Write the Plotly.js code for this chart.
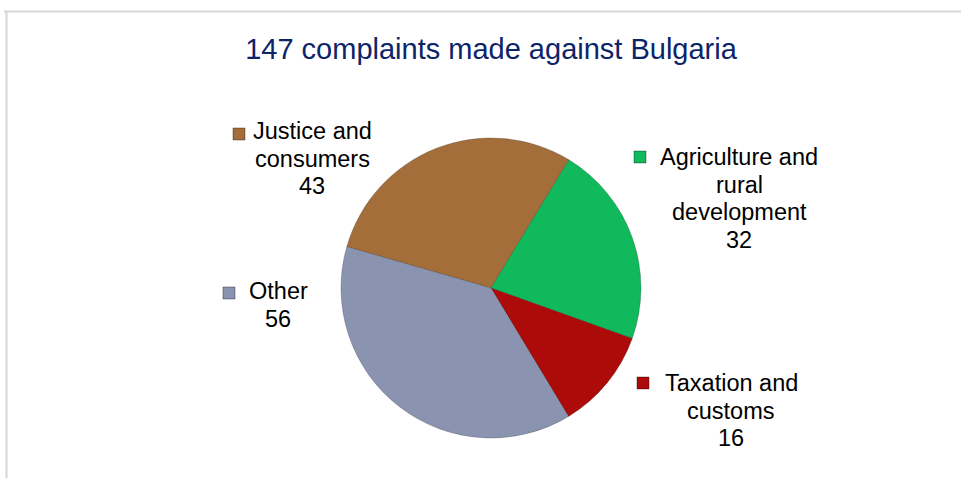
<!DOCTYPE html>
<html>
<head>
<meta charset="utf-8">
<script src="https://cdn.plot.ly/plotly-3.0.1.min.js"></script>
<style>html,body{margin:0;padding:0;background:#fff;}#chart{width:961px;height:478px;}</style>
</head>
<body>
<div id="chart"></div>
<script>
// Data
const categories = ["Justice and consumers", "Agriculture and rural development", "Taxation and customs", "Other"];
const wrappedLabels = [["Justice and", "consumers"], ["Agriculture and", "rural", "development"], ["Taxation and", "customs"], ["Other"]];
const complaints = [43, 32, 16, 56];
const sliceColors = ["#a46e3b", "#10b95b", "#ad0a0a", "#8a93b0"];
const chartTitle = "147 complaints made against Bulgaria";

// Layout helpers (pixels -> paper)
const W = 961, H = 478;
const px = x => x / W;
const py = y => 1 - y / H;

// Label placements: centre x and first-line centre y (pixels), line pitch
const labelPos = [[312, 131], [739, 157], [731, 383], [278, 291]];
const linePitch = 27.5;
const squarePos = [[233, 128], [634, 151], [637, 377], [223, 287]];

const cx = 491, cy = 288, r = 150;

const trace = {
  type: "pie",
  labels: categories,
  values: complaints,
  sort: false,
  direction: "clockwise",
  rotation: -74,
  marker: { colors: sliceColors, line: { color: "rgba(0,0,0,0.2)", width: 1 } },
  textinfo: "none",
  hoverinfo: "label+value",
  domain: { x: [px(cx - r), px(cx + r)], y: [py(cy + r), py(cy - r)] },
  showlegend: false
};

const annotations = [];
categories.forEach((c, i) => {
  const lines = wrappedLabels[i].concat([String(complaints[i])]);
  lines.forEach((ln, j) => {
    annotations.push({
      xref: "paper", yref: "paper",
      x: px(labelPos[i][0]), y: py(labelPos[i][1] + j * linePitch),
      xanchor: "center", yanchor: "middle",
      showarrow: false,
      text: ln,
      font: { family: "Liberation Sans, Arial, sans-serif", size: 23.5, color: "#000" }
    });
  });
});

const shapes = [
  { type: "line", xref: "paper", yref: "paper", x0: px(4), x1: 1, y0: py(11.5), y1: py(11.5), line: { color: "#d6d6d6", width: 2 } },
  { type: "line", xref: "paper", yref: "paper", x0: px(6.5), x1: px(6.5), y0: py(11.5), y1: 0, line: { color: "#d6d6d6", width: 2 } }
].concat(categories.map((c, i) => ({
  type: "rect", xref: "paper", yref: "paper",
  x0: px(squarePos[i][0]), x1: px(squarePos[i][0] + 12),
  y0: py(squarePos[i][1] + 12), y1: py(squarePos[i][1]),
  fillcolor: sliceColors[i], line: { color: "rgba(0,0,0,0.35)", width: 1 }
})));

const layout = {
  width: W, height: H,
  margin: { l: 0, r: 0, t: 0, b: 0 },
  paper_bgcolor: "#fff",
  title: {
    text: chartTitle,
    x: px(491), xanchor: "center",
    y: py(49), yanchor: "middle",
    font: { family: "Liberation Sans, Arial, sans-serif", size: 29, color: "#0c2468" }
  },
  annotations: annotations,
  shapes: shapes
};

Plotly.newPlot("chart", [trace], layout, { displayModeBar: false, staticPlot: true });
</script>
</body>
</html>
